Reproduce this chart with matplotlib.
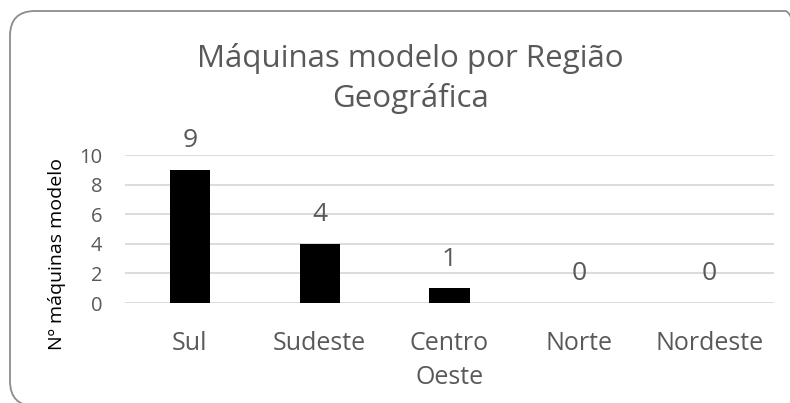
import matplotlib.pyplot as plt
from matplotlib.patches import FancyBboxPatch

regioes = ['Sul', 'Sudeste', 'Centro\nOeste', 'Norte', 'Nordeste']
maquinas = [9, 4, 1, 0, 0]
yticks = [0, 2, 4, 6, 8, 10]

texto = '#595959'
plt.rcParams['font.family'] = ['Open Sans', 'DejaVu Sans']

fig = plt.figure(figsize=(7.9, 4.03), dpi=100)
ax = fig.add_axes([0.158, 0.248, 0.822, 0.367])

# rounded chart border (extends past right and bottom edges)
borda = FancyBboxPatch((10, -3), 800, 395, boxstyle='round,pad=0,rounding_size=25',
                       transform=None, facecolor='none', edgecolor='#8c8c8c', linewidth=1.3)
fig.patches.append(borda)

x = range(len(regioes))
ax.bar(x, maquinas, width=0.31, color='black', zorder=3)
for i, v in zip(x, maquinas):
    ax.annotate(str(v), (i, v), xytext=(0, 21), textcoords='offset points',
                ha='center', va='center', fontsize=19, color=texto)

ax.set_xlim(-0.5, len(regioes) - 0.5)
ax.set_ylim(0, 10)
ax.set_yticks(yticks)
ax.set_xticks(list(x))
ax.set_xticklabels(regioes, fontsize=18, color=texto, linespacing=1.5)
ax.tick_params(axis='y', labelsize=14.5, labelcolor=texto, length=0, pad=16)
ax.tick_params(axis='x', length=0, pad=20)
ax.grid(axis='y', color='#d9d9d9', linewidth=1.3, zorder=0)
for s in ax.spines.values():
    s.set_visible(False)
ax.set_ylabel('Nº máquinas modelo', fontsize=14, color='black', va='center')
ax.yaxis.set_label_coords(-0.105, 0.33)

fig.text(0.52, 0.805, 'Máquinas modelo por Região\nGeográfica', ha='center', va='center',
         fontsize=22.5, color=texto, linespacing=1.4)

fig.savefig('out.png', dpi=100)
